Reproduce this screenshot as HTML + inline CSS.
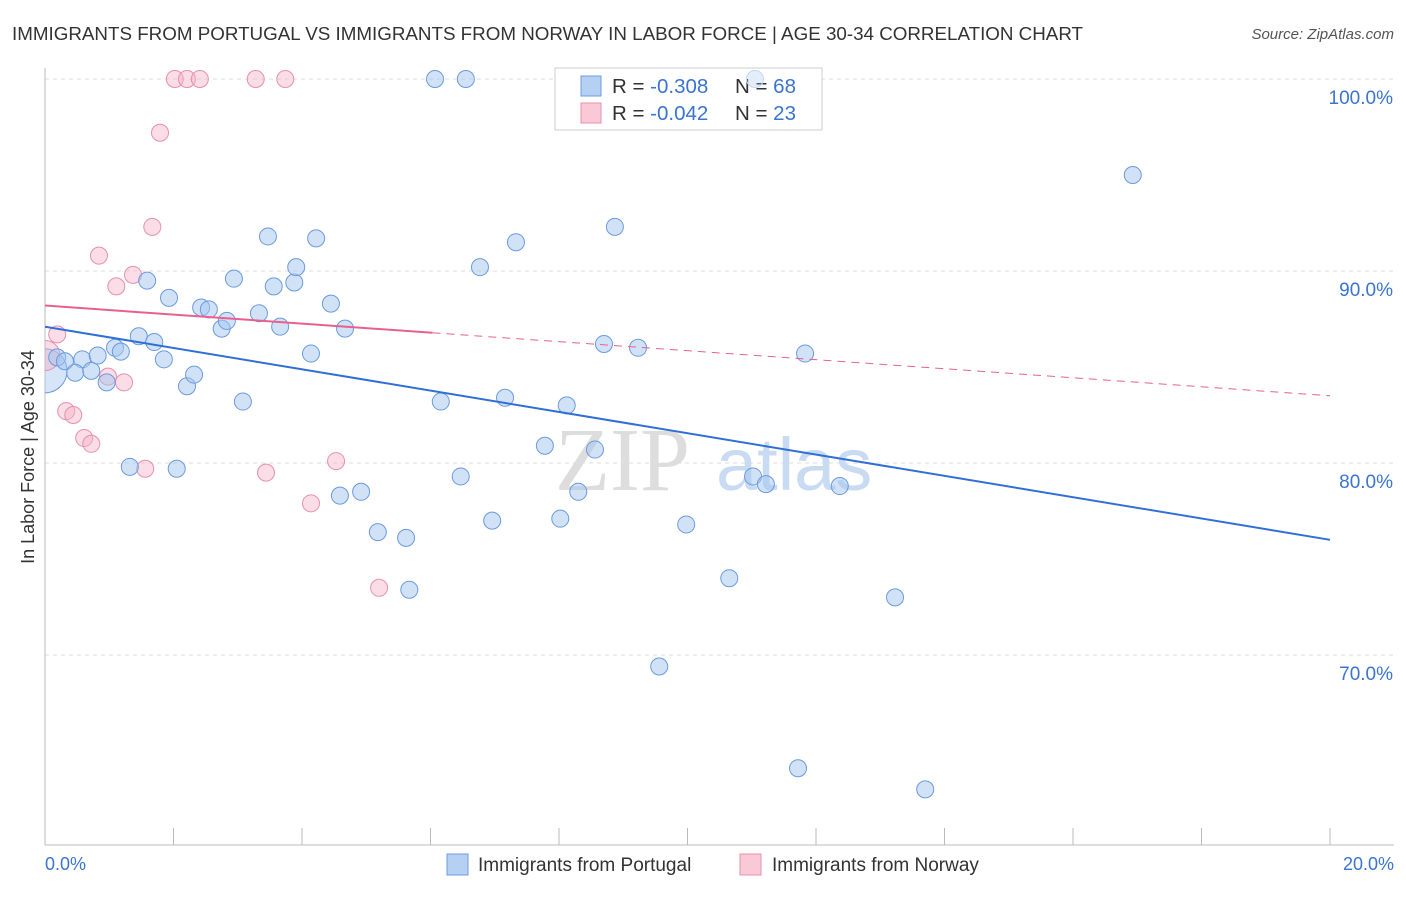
<!DOCTYPE html>
<html><head><meta charset="utf-8"><style>
body{margin:0;background:#fff;font-family:"Liberation Sans",sans-serif;}
</style></head><body>
<svg width="1406" height="892" xmlns="http://www.w3.org/2000/svg">
<defs><clipPath id="plotclip"><rect x="45" y="60" width="1360" height="785"/></clipPath></defs>
<text x="12" y="40" font-size="18.8" fill="#333">IMMIGRANTS FROM PORTUGAL VS IMMIGRANTS FROM NORWAY IN LABOR FORCE | AGE 30-34 CORRELATION CHART</text>
<text x="1394" y="39" font-size="15" fill="#555" font-style="italic" text-anchor="end">Source: ZipAtlas.com</text>
<g id="grid"></g>
<text x="555" y="490" font-size="90" fill="#ddd" font-family="Liberation Serif,serif">ZIP</text>
<text x="716" y="490" font-size="74" fill="#c8dbf2">atlas</text>
<line x1="45" y1="68" x2="45" y2="845" stroke="#bbb"/>
<line x1="45" y1="845" x2="1394" y2="845" stroke="#bbb"/>
<text transform="translate(34,457) rotate(-90)" font-size="18" fill="#333" text-anchor="middle">In Labor Force | Age 30-34</text>
<text x="45" y="870" font-size="18" fill="#3b74d0">0.0%</text>
<text x="1394" y="870" font-size="18" fill="#3b74d0" text-anchor="end">20.0%</text>
<g>
<rect x="555" y="68" width="267" height="62" fill="#fff" stroke="#ccc"/>
<rect x="581" y="76" width="20" height="20" fill="#b6d0f4" stroke="#6a9be0"/>
<rect x="581" y="103" width="20" height="20" fill="#f9c9d7" stroke="#e890ab"/>
<text x="612" y="93" font-size="20.5" fill="#333">R = <tspan fill="#3b74d0">-0.308</tspan></text>
<text x="735" y="93" font-size="20.5" fill="#333">N = <tspan fill="#3b74d0">68</tspan></text>
<text x="612" y="120" font-size="20.5" fill="#333">R = <tspan fill="#3b74d0">-0.042</tspan></text>
<text x="735" y="120" font-size="20.5" fill="#333">N = <tspan fill="#3b74d0">23</tspan></text>
</g>
<g id="marks" clip-path="url(#plotclip)"></g>
<g>
<rect x="447" y="854" width="21" height="21" fill="#b6d0f4" stroke="#6a9be0"/>
<text x="478" y="871" font-size="19" fill="#333">Immigrants from Portugal</text>
<rect x="740" y="854" width="21" height="21" fill="#f9c9d7" stroke="#e890ab"/>
<text x="772" y="871" font-size="19" fill="#333">Immigrants from Norway</text>
</g>
</svg>
<script>
const yTicks=[70,80,90,100];
const xTickVals=[0,2,4,6,8,10,12,14,16,18,20];
const blueX=[0.19,0.31,0.58,0.47,0.72,0.82,0.96,1.09,1.18,1.46,1.70,1.85,1.59,1.93,2.21,2.32,2.43,2.55,2.75,2.83,2.94,3.08,3.33,3.47,3.56,3.66,3.88,3.91,4.22,4.14,4.45,4.67,4.59,4.92,5.18,5.62,5.67,6.07,6.55,6.16,6.47,6.77,6.96,7.16,7.33,7.78,8.02,8.12,8.30,8.56,8.70,8.87,9.23,9.56,9.98,10.65,11.02,11.22,11.72,11.83,12.37,13.23,13.70,16.93,11.05,1.32,2.05];
const blueY=[85.5,85.3,85.4,84.7,84.8,85.6,84.2,86.0,85.8,86.6,86.3,85.4,89.5,88.6,84.0,84.6,88.1,88.0,87.0,87.4,89.6,83.2,87.8,91.8,89.2,87.1,89.4,90.2,91.7,85.7,88.3,87.0,78.3,78.5,76.4,76.1,73.4,100,100,83.2,79.3,90.2,77.0,83.4,91.5,80.9,77.1,83.0,78.5,80.7,86.2,92.3,86.0,69.4,76.8,74.0,79.3,78.9,64.1,85.7,78.8,73.0,63.0,95.0,100,79.8,79.7];
const pinkX=[0.19,0.33,0.44,0.61,0.72,0.84,1.11,1.37,0.98,1.23,1.56,1.67,1.79,2.02,2.21,2.41,3.28,3.74,3.44,4.14,4.53,5.20];
const pinkY=[86.7,82.7,82.5,81.3,81.0,90.8,89.2,89.8,84.5,84.2,79.7,92.3,97.2,100,100,100,100,100,79.5,77.9,80.1,73.5];
const blueTrend=[87.1,76.0];
const pinkTrend=[88.2,83.5];
const pinkSolidEnd=6.03;
const NS="http://www.w3.org/2000/svg";
const xs=v=>45+v*64.25, ys=v=>79+(100-v)*19.2;
function mk(t,a,p){const e=document.createElementNS(NS,t);for(const k in a)e.setAttribute(k,a[k]);p.appendChild(e);return e;}
const grid=document.getElementById('grid'), marks=document.getElementById('marks');
yTicks.forEach(v=>{
 const l=mk('line',{x1:45,x2:1394,y1:ys(v),y2:ys(v),stroke:'#ddd','stroke-dasharray':'4,4'},grid);
 
 
 const t=mk('text',{x:1393,y:ys(v)+25,'font-size':19,fill:'#3b74d0','text-anchor':'end'},grid);
 t.textContent=v.toFixed(1)+'%';
 
 
});
xTickVals.forEach(v=>{
 const l=mk('line',{x1:xs(v),x2:xs(v),y1:828,y2:845,stroke:'#bbb'},grid);
 
 
});
const bb=mk('circle',{cx:xs(0),cy:ys(84.8),r:22,fill:'rgba(164,198,240,0.45)',stroke:'#6a9be0'},marks);


const pb=mk('circle',{cx:xs(0),cy:ys(85.6),r:15,fill:'rgba(245,180,200,0.45)',stroke:'#e890ab'},marks);


pinkX.forEach((x,i)=>{
 const c=mk('circle',{cx:xs(x),cy:ys(pinkY[i]),r:8.5,fill:'rgba(245,180,200,0.45)',stroke:'#e890ab'},marks);
 
 
});
blueX.forEach((x,i)=>{
 const inLegend=xs(x)>555&&xs(x)<822&&ys(blueY[i])<130;
 const c=mk('circle',{cx:xs(x),cy:ys(blueY[i]),r:8.5,fill:inLegend?'rgba(164,198,240,0.3)':'rgba(164,198,240,0.5)',stroke:inLegend?'#c4d8f2':'#6a9be0'},marks);
 
 
});
const bl=mk('line',{x1:xs(0),y1:ys(blueTrend[0]),x2:xs(20),y2:ys(blueTrend[1]),stroke:'#2f6fd6','stroke-width':2},marks);


const pyAt=x=>pinkTrend[0]+(pinkTrend[1]-pinkTrend[0])*x/20;
const pl=mk('line',{x1:xs(0),y1:ys(pinkTrend[0]),x2:xs(pinkSolidEnd),y2:ys(pyAt(pinkSolidEnd)),stroke:'#e8608f','stroke-width':2},marks);


const pd=mk('line',{x1:xs(pinkSolidEnd),y1:ys(pyAt(pinkSolidEnd)),x2:xs(20),y2:ys(pinkTrend[1]),stroke:'#e8608f','stroke-width':1,'stroke-dasharray':'8,6'},marks);


</script>
</body></html>
